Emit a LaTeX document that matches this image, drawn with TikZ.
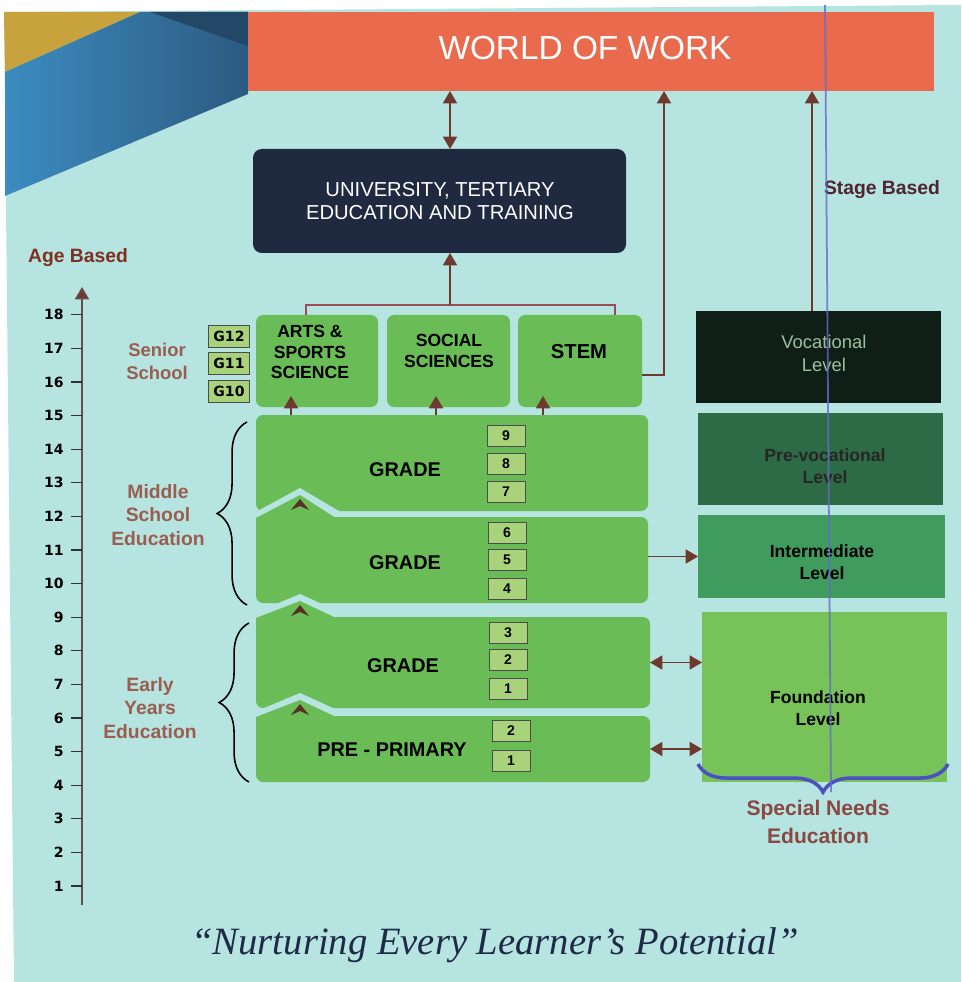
\documentclass[tikz,border=0pt]{standalone}
\usepackage{fontspec}
\setmainfont{Liberation Sans}
\newfontfamily\capfont{Liberation Serif}
\newfontfamily\numfont{DejaVu Sans}
\usetikzlibrary{fit,arrows.meta,decorations.pathreplacing}
\definecolor{bgcyan}{HTML}{B6E4E0}
\definecolor{wowred}{HTML}{E96A4C}
\definecolor{uninavy}{HTML}{1F2940}
\definecolor{blkgreen}{HTML}{69BC56}
\definecolor{numgreen}{HTML}{A9D37A}
\definecolor{vocblack}{HTML}{0F1E16}
\definecolor{vocgrey}{HTML}{9DBF9B}
\definecolor{prevgreen}{HTML}{2D6B46}
\definecolor{intgreen}{HTML}{3F9B5E}
\definecolor{fndgreen}{HTML}{77C35A}
\definecolor{arrbrown}{HTML}{6E3A30}
\definecolor{treered}{HTML}{9C4A58}
\definecolor{lblbrown}{HTML}{9A5E50}
\definecolor{agered}{HTML}{7E3022}
\definecolor{stagebrown}{HTML}{4E2530}
\definecolor{snblue}{HTML}{4B50C2}
\definecolor{snbrown}{HTML}{8A4842}
\definecolor{captnavy}{HTML}{1E2A48}
\definecolor{axgrey}{HTML}{6B4B48}
\definecolor{tlyellow}{HTML}{C8A23C}
\definecolor{tlblue}{HTML}{3C8CC0}
\definecolor{tldark}{HTML}{2C5A80}

\begin{document}
\begin{tikzpicture}[x=0.02cm,y=-0.02cm,
	box/.style={inner sep=0pt,outer sep=0pt},
	blk/.style={box,fill=blkgreen,rounded corners=4pt},
	numbox/.style={draw=black!70,line width=0.5pt,fill=numgreen,minimum width=0.76cm,minimum height=0.42cm,inner sep=0pt,font=\bfseries\fontsize{8}{8}\selectfont},
	gbox/.style={numbox,minimum width=0.82cm,minimum height=0.44cm},
	blktext/.style={font=\bfseries\fontsize{11.3}{12}\selectfont},
	srtext/.style={align=center,font=\bfseries\fontsize{10}{11.5}\selectfont},
	lvltext/.style={align=center,font=\bfseries\fontsize{10}{12.5}\selectfont},
	agelbl/.style={align=center,text=lblbrown,font=\bfseries\fontsize{11}{13.5}\selectfont},
	barr/.style={arrbrown,line width=0.9pt,-{Triangle[length=7pt,width=8pt]}},
	dbarr/.style={barr,{Triangle[length=7pt,width=8pt]}-{Triangle[length=7pt,width=8pt]}},
	treeline/.style={treered,line width=0.9pt},
	lbrace/.style={decorate,decoration={brace,amplitude=17pt},line width=0.9pt}
]
	\useasboundingbox (0,0) rectangle (961,982);
	\fill[white] (0,0) rectangle (961,982);
	\fill[bgcyan] (4,12) -- (961,5) -- (961,982) -- (14,982) -- cycle;
	\fill[tlyellow] (4,12) -- (140,12) -- (5,72) -- cycle;
	\shade[left color=tlblue,right color=tldark] (5,72) -- (140,12) -- (248,12) -- (248,94) -- (5,196) -- cycle;
	\fill[tldark!80!black] (150,12) -- (248,12) -- (248,46) -- cycle;

	\node (wow) [box,fill=wowred,fit={(248,12) (934,91)}] {};
	\node (wowt) at (585,48) [text=white,font=\fontsize{19}{19}\selectfont] {WORLD OF WORK};
	\node (univ) [box,fill=uninavy,rounded corners=5pt,fit={(253,149) (626,253)}] {};
	\node (univt) at (440,201) [align=center,text=white,font=\fontsize{11.5}{13}\selectfont] {UNIVERSITY, TERTIARY\\EDUCATION AND TRAINING};
	\node (stage) at (882,190) [text=stagebrown,font=\bfseries\fontsize{11}{12}\selectfont] {Stage Based};

	\node (arts) [blk,fit={(256,315) (378,407)}] {};
	\node (soc) [blk,fit={(387,315) (510,407)}] {};
	\node (stem) [blk,fit={(518,315) (642,407)}] {};
	\node (artst) at (310,352) [srtext] {ARTS \&\\SPORTS\\SCIENCE};
	\node (soct) at (449,351) [srtext] {SOCIAL\\SCIENCES};
	\node (stemt) at (579,352) [srtext,font=\bfseries\fontsize{11.5}{12}\selectfont] {STEM};
	\foreach \g/\y in {12/336,11/363,10/391}
		\node (g\g) at (229,\y) [gbox] {\numfont G\g};

	\node (m1) [blk,fit={(256,415) (648,511)}] {};
	\node (m2) [blk,fit={(256,517) (648,603)}] {};
	\node (e1) [blk,fit={(256,617) (650,708)}] {};
	\node (e2) [blk,fit={(256,716) (650,782)}] {};
	\foreach \t/\h in {517/22,617/16,716/16}{
		\fill[bgcyan] (252,\t-3) -- (300,\t-\h-7) -- (344,\t-3) -- cycle;
		\fill[blkgreen] (256,\t+1) -- (300,\t-\h) -- (334,\t) -- (334,\t+8) -- (256,\t+8) -- cycle;
		\fill[arrbrown!80!black] (291,\t-\h+15) -- (300,\t-\h+4) -- (309,\t-\h+15) -- (300,\t-\h+11) -- cycle;
	}
	\foreach \n/\y in {9/436,8/464,7/492}
		\node (m1n\n) at (506,\y) [numbox] {\n};
	\foreach \n/\y in {6/533,5/560,4/589}
		\node (m2n\n) at (507,\y) [numbox] {\n};
	\foreach \n/\y in {3/633,2/660,1/689}
		\node (e1n\n) at (508,\y) [numbox] {\n};
	\foreach \n/\y in {2/731,1/761}
		\node (e2n\n) at (511,\y) [numbox] {\n};
	\node (m1t) at (405,470) [blktext] {GRADE};
	\node (m2t) at (405,563) [blktext] {GRADE};
	\node (e1t) at (403,666) [blktext] {GRADE};
	\node (e2t) at (392,750) [blktext] {PRE - PRIMARY};

	\node (voc) [box,fill=vocblack,fit={(696,311) (941,403)}] {};
	\node (prev) [box,fill=prevgreen,fit={(698,413) (943,505)}] {};
	\node (inter) [box,fill=intgreen,fit={(698,515) (945,598)}] {};
	\node (found) [box,fill=fndgreen,fit={(702,612) (947,782)}] {};
	\node (voct) at (824,353) [align=center,text=vocgrey,font=\fontsize{10.5}{13}\selectfont] {Vocational\\Level};
	\node (prevt) at (825,466) [lvltext,text=black!85] {Pre-vocational\\Level};
	\node (intert) at (822,562) [lvltext] {Intermediate\\Level};
	\node (foundt) at (818,708) [lvltext] {Foundation\\Level};

	\coordinate (wu) at (450,0);
	\draw[dbarr] (univ.north -| wu) -- (wow.south -| wu);
	\coordinate (tj) at (450,305);
	\coordinate (ta) at (306,305);
	\coordinate (ts) at (615,305);
	\draw[treeline] (ta |- arts.north) -- (ta) -- (ts) -- (ts |- stem.north);
	\draw[barr] (tj) -- (univ.south -| tj);
	\coordinate (sw) at (664,375);
	\draw[barr] (stem.east |- sw) -- (sw) -- (wow.south -| sw);
	\coordinate (vw) at (812,0);
	\draw[barr] (voc.north -| vw) -- (wow.south -| vw);
	\foreach \s/\x in {arts/291,soc/436,stem/543}{
		\coordinate (up\s) at (\x,0);
		\draw[barr,shorten >=-0.22cm] (m1.north -| up\s) -- (\s.south -| up\s);
	}
	\draw[barr] (m2.east |- inter.west) -- (inter.west);
	\draw[dbarr] (e1.east) -- (e1.east -| found.west);
	\draw[dbarr] (e2.east) -- (e2.east -| found.west);

	\coordinate (axbot) at (82,905);
	\coordinate (axtop) at (82,287);
	\draw[axgrey,line width=0.9pt,-{Triangle[length=7pt,width=8pt,fill=arrbrown]}] (axbot) -- (axtop);
	\foreach \a in {1,...,18}{
		\node (age\a) at (64,{886-33.6*(\a-1)}) [anchor=east,inner sep=0pt,font=\numfont\bfseries\fontsize{8}{8}\selectfont] {\a};
		\draw[black!80,line width=0.7pt] (age\a.east) ++(7,0) -- ++(11,0);
	}
	\node (agebased) at (78,258) [text=agered,font=\bfseries\fontsize{11}{12}\selectfont] {Age Based};
	\node (senior) at (157,361) [agelbl,font=\bfseries\fontsize{10.5}{13}\selectfont] {Senior\\School};
	\node (middle) at (158,515) [agelbl] {Middle\\School\\Education};
	\node (early) at (150,708) [agelbl] {Early\\Years\\Education};
	\coordinate (mbt) at (247,422);
	\coordinate (mbb) at (247,605);
	\draw[lbrace] (mbb) -- (mbt);
	\coordinate (ebt) at (249,623);
	\coordinate (ebb) at (249,782);
	\draw[lbrace] (ebb) -- (ebt);

	\coordinate (sntop) at (825,5);
	\coordinate (snbot) at (831,792);
	\coordinate (snl) at (698,764);
	\coordinate (snr) at (948,764);
	\draw[snblue,line width=2pt,decorate,decoration={brace,amplitude=16pt}] (snr) -- (snl);
	\draw[snblue!85,opacity=0.8,line width=1pt] (sntop) -- (snbot);
	\node (snt) at (818,822) [align=center,text=snbrown,font=\bfseries\fontsize{12}{16}\selectfont] {Special Needs\\Education};

	\node (motto) at (495,945) [text=captnavy,font=\capfont\itshape\fontsize{22}{22}\selectfont] {“Nurturing Every Learner’s Potential”};
\end{tikzpicture}
\end{document}
